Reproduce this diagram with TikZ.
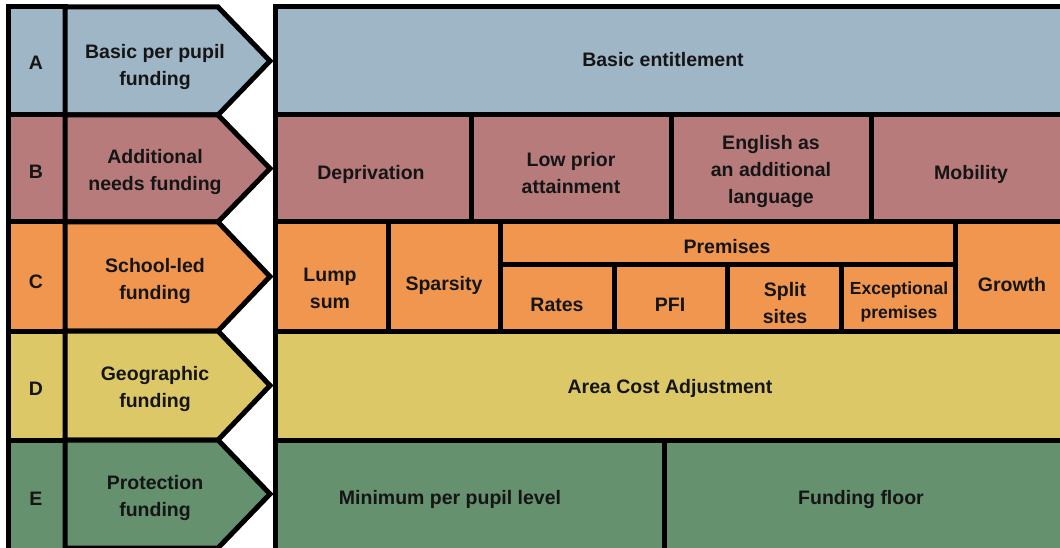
\documentclass[tikz,border=0pt]{standalone}
\usepackage{fontspec}
\setmainfont{Liberation Sans}
\definecolor{cA}{HTML}{9FB6C7}
\definecolor{cB}{HTML}{B77B7C}
\definecolor{cC}{HTML}{F0964E}
\definecolor{cD}{HTML}{DCC867}
\definecolor{cE}{HTML}{65916F}
\definecolor{txtc}{HTML}{151515}
\newcommand\cellbox[6]{%
  \pgfmathsetmacro\cbw{#4-#2}\pgfmathsetmacro\cbh{#5-#3}%
  \node[cell, fill=#6, minimum width=\cbw pt, minimum height=\cbh pt] (#1) at ({(#2+#4)/2},{(#3+#5)/2}) {};}
\newcommand\arrowbox[4]{% name, top, bottom, colour
  \pgfmathsetmacro\abm{(#2+#3)/2}%
  \draw[fill=#4] (65,#2) -- (218,#2) -- (270,\abm) -- (218,#3) -- (65,#3) -- cycle;
  \coordinate (#1) at (155,\abm);}
\begin{document}
\begin{tikzpicture}[x=1pt,y=-1pt,line width=5pt,line join=miter,
  cell/.style={draw,rectangle,inner sep=0pt,outer sep=0pt},
  txt/.style={font=\bfseries\fontsize{19.5}{27}\selectfont,text=txtc,align=center,inner sep=0pt,yshift=-2pt},
  smalltxt/.style={font=\bfseries\fontsize{17.5}{24}\selectfont,text=txtc,align=center,inner sep=0pt,yshift=-2pt}]
\useasboundingbox (0,0) rectangle (1060,548);
\clip (0,0) rectangle (1060,548);
% letter column
\cellbox{la}{8}{7}{65}{115}{cA}
\cellbox{lb}{8}{115}{65}{222}{cB}
\cellbox{lc}{8}{222}{65}{331}{cC}
\cellbox{ld}{8}{331}{65}{440}{cD}
\cellbox{le}{8}{440}{65}{560}{cE}
% arrows
\arrowbox{pa}{7}{115}{cA}
\arrowbox{pb}{115}{222}{cB}
\arrowbox{pc}{222}{331}{cC}
\arrowbox{pd}{331}{440}{cD}
\arrowbox{pe}{440}{548}{cE}
% right panel
\cellbox{basic}{275}{7}{1070}{115}{cA}
\cellbox{depr}{275}{115}{471}{222}{cB}
\cellbox{lpa}{471}{115}{671}{222}{cB}
\cellbox{eal}{671}{115}{871}{222}{cB}
\cellbox{mob}{871}{115}{1070}{222}{cB}
\cellbox{lump}{275}{222}{388}{331}{cC}
\cellbox{spar}{388}{222}{500}{331}{cC}
\cellbox{prem}{500}{222}{955}{264}{cC}
\cellbox{rates}{500}{264}{614}{331}{cC}
\cellbox{pfi}{614}{264}{727}{331}{cC}
\cellbox{split}{727}{264}{841}{331}{cC}
\cellbox{exc}{841}{264}{955}{331}{cC}
\cellbox{grow}{955}{222}{1070}{331}{cC}
\cellbox{aca}{275}{331}{1070}{440}{cD}
\cellbox{mppl}{275}{440}{664}{560}{cE}
\cellbox{ffl}{664}{440}{1070}{560}{cE}
% texts
\node[txt] (ta) at (36,61) {A};
\node[txt] (tb) at (36,170) {B};
\node[txt] (tc) at (36,280) {C};
\node[txt] (td) at (36,387) {D};
\node[txt] (te) at (36,497) {E};
\node[txt] (tpa) at (155,65) {Basic per pupil\\funding};
\node[txt] (tpb) at (155,170) {Additional\\needs funding};
\node[txt] (tpc) at (155,279) {School-led\\funding};
\node[txt] (tpd) at (155,387) {Geographic\\funding};
\node[txt] (tpe) at (155,496) {Protection\\funding};
\node[txt] (tbasic) at (663,58) {Basic entitlement};
\node[txt] (tdepr) at (371,172) {Deprivation};
\node[txt] (tlpa) at (571,171) {Low prior\\attainment};
\node[txt] (teal) at (771,170) {English as\\an additional\\language};
\node[txt] (tmob) at (971,172) {Mobility};
\node[txt] (tlump) at (330,286) {Lump\\sum};
\node[txt] (tspar) at (444,283) {Sparsity};
\node[txt] (tprem) at (727,245) {Premises};
\node[txt] (trates) at (557,303) {Rates};
\node[txt] (tpfi) at (670,303) {PFI};
\node[txt] (tsplit) at (785,301) {Split\\sites};
\node[smalltxt] (texc) at (899,300) {Exceptional\\premises};
\node[txt] (tgrow) at (1012,283) {Growth};
\node[txt] (taca) at (670,386) {Area Cost Adjustment};
\node[txt] (tmppl) at (450,497) {Minimum per pupil level};
\node[txt] (tffl) at (861,497) {Funding floor};
\end{tikzpicture}
\end{document}
